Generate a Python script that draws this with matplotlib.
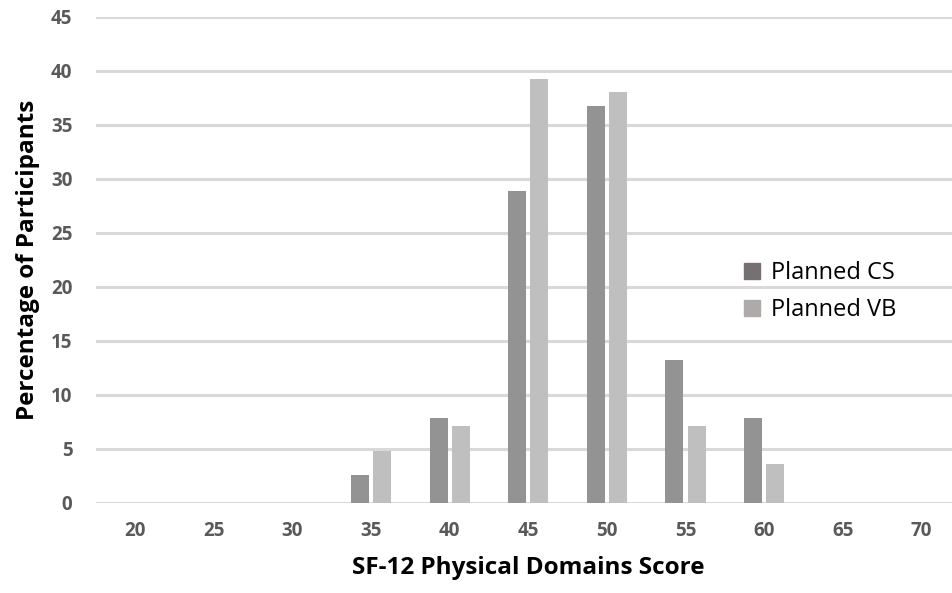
import matplotlib
matplotlib.use("Agg")
import matplotlib.pyplot as plt
import numpy as np
from matplotlib.patches import Patch

categories = ["20", "25", "30", "35", "40", "45", "50", "55", "60", "65", "70"]
planned_cs = [0, 0, 0, 2.6, 7.9, 28.9, 36.8, 13.2, 7.9, 0, 0]
planned_vb = [0, 0, 0, 4.8, 7.1, 39.3, 38.1, 7.1, 3.6, 0, 0]
series_names = ["Planned CS", "Planned VB"]

plt.rcParams['font.family'] = ['Open Sans', 'DejaVu Sans']

W, H = 953, 593
fig = plt.figure(figsize=(W / 100, H / 100), dpi=100)
left_px, cat_px = 96, 78.6
ax = fig.add_axes([left_px / W, 1 - 503 / H, 11 * cat_px / W, (503 - 17) / H])

x = np.arange(len(categories))
w = 0.229
off = 0.14
ax.bar(x - off, planned_cs, width=w, color="#939393", zorder=3)
ax.bar(x + off, planned_vb, width=w, color="#bfbfbf", zorder=3)

ax.set_xlim(-0.5, len(categories) - 0.5)
ax.set_ylim(0, 45)
ax.set_yticks(np.arange(0, 46, 5))
ax.yaxis.grid(True, color="#d9d9d9", linewidth=2.2, zorder=0)
ax.set_axisbelow(True)
for s in ax.spines.values():
    s.set_visible(False)
ax.tick_params(length=0)
ax.set_xticks(x)
ax.set_xticklabels(categories, fontsize=13.5, fontweight="bold", color="#595959")
for lbl in ax.get_yticklabels():
    lbl.set_fontsize(13.5)
    lbl.set_fontweight("bold")
    lbl.set_color("#595959")
ax.tick_params(axis="x", pad=13)
ax.tick_params(axis="y", pad=17)

ax.set_xlabel("SF-12 Physical Domains Score", fontsize=17.5, fontweight="bold",
              labelpad=11, color="#000000")
ax.set_ylabel("Percentage of Participants", fontsize=17.5, fontweight="bold",
              labelpad=8, color="#000000")

handles = [Patch(color="#767171"), Patch(color="#aeaaaa")]
ax.legend(handles, series_names, loc="center left", bbox_to_anchor=(0.749, 0.435),
          frameon=False, fontsize=17, handlelength=0.68, handleheight=0.68,
          handletextpad=0.47, labelspacing=0.55, borderpad=0, borderaxespad=0)

fig.savefig("out.png", dpi=100)
